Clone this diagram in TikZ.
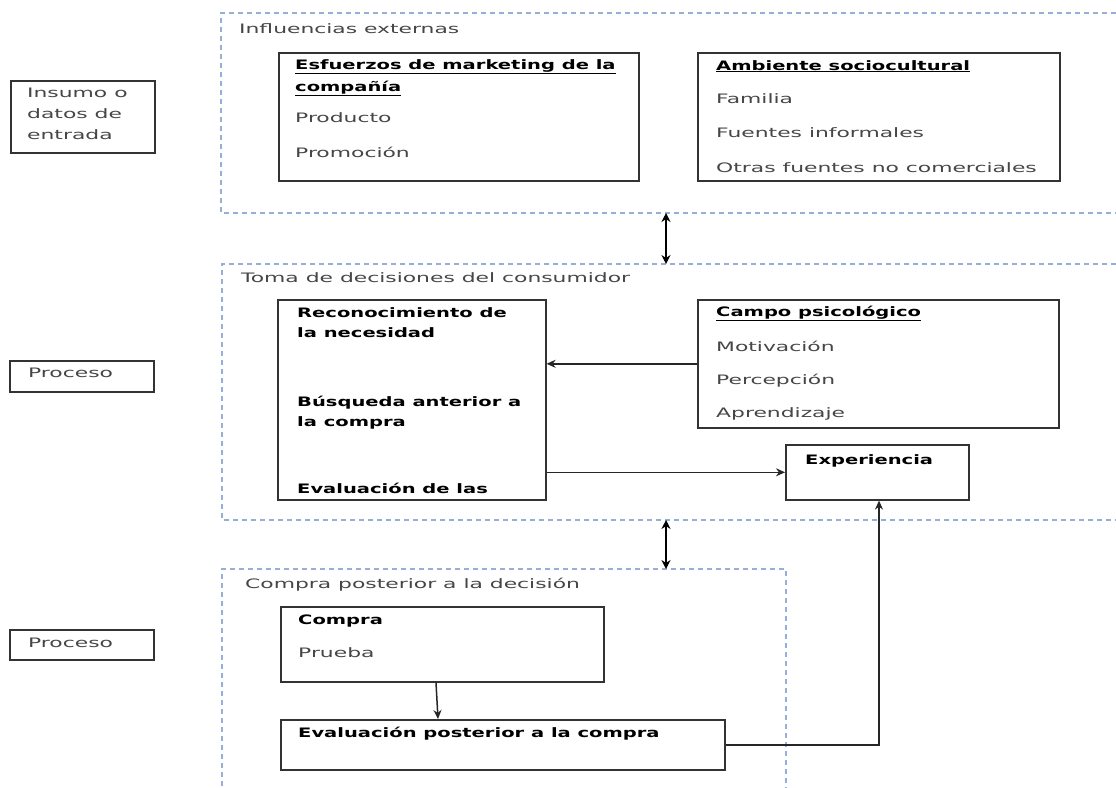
\documentclass[tikz,border=0pt]{standalone}
\usepackage{fontspec}
\setmainfont{DejaVu Sans}[FakeStretch=1.68]
\newfontfamily\bfam{DejaVu Sans}[FakeStretch=1.5]
\usetikzlibrary{arrows.meta}
\definecolor{dashc}{RGB}{150,175,215}
\definecolor{txtc}{RGB}{70,70,70}
\begin{document}
\begin{tikzpicture}[x=1pt,y=-1pt,
  box/.style={draw=black!80, line width=1.6pt, inner sep=0pt, anchor=north west},
  cont/.style={draw=dashc, line width=1.5pt, dash pattern=on 5pt off 4pt},
  txt/.style={anchor=base west, inner sep=0pt, font=\fontsize{13}{15}\selectfont, text=txtc},
  btxt/.style={anchor=base west, inner sep=0pt, font=\fontsize{13}{15}\selectfont\bfam\bfseries, text=black},
  arr/.style={draw=black!85, line width=1.5pt, -{Stealth[length=9pt,width=8pt]}},
  dbl/.style={draw=black, line width=1.5pt, {Stealth[length=9pt,width=9pt]}-{Stealth[length=9pt,width=9pt]}}]
\useasboundingbox (0,0) rectangle (1116,787);
\fill[white] (0,0) rectangle (1116,787);

% containers
\draw[cont] (1125,13) -- (221,13) -- (221,213) -- (1125,213);
\draw[cont] (1125,264) -- (222,264) -- (222,520) -- (1125,520);
\draw[cont] (222,795) -- (222,569) -- (786,569) -- (786,795);
\coordinate (c1b) at (666,213);
\coordinate (c2t) at (666,264);
\coordinate (c2b) at (666,520);
\coordinate (c3t) at (666,569);

% left boxes
\node[box, minimum width=144pt, minimum height=72pt] (insumo) at (10,80) {};
\node[box, minimum width=144pt, minimum height=31pt] (proc1) at (9,360) {};
\node[box, minimum width=144pt, minimum height=30pt] (proc2) at (9,629) {};
\node[txt] (t-ins1) at (27,97) {Insumo o};
\node[txt] (t-ins2) at (27,118) {datos de};
\node[txt] (t-ins3) at (27,139) {entrada};
\node[txt] (t-pr1) at (28,377) {Proceso};
\node[txt] (t-pr2) at (28,647) {Proceso};

% top container
\node[txt] (t-inf) at (239,33) {Influencias externas};
\node[box, minimum width=360pt, minimum height=128pt] (esf) at (278,52) {};
\node[btxt] (t-esf1) at (295,69) {\underline{Esfuerzos de marketing de la}};
\node[btxt] (t-esf2) at (295,91) {\underline{compañía}};
\node[txt] (t-esf3) at (295,122) {Producto};
\node[txt] (t-esf4) at (295,157) {Promoción};
\node[box, minimum width=362pt, minimum height=128pt] (amb) at (697,52) {};
\node[btxt] (t-amb1) at (716,70) {\underline{Ambiente sociocultural}};
\node[txt] (t-amb2) at (716,103) {Familia};
\node[txt] (t-amb3) at (716,137) {Fuentes informales};
\node[txt] (t-amb4) at (716,172) {Otras fuentes no comerciales};

% middle container
\node[txt] (t-toma) at (241,282) {Toma de decisiones del consumidor};
\node[box, minimum width=268pt, minimum height=200pt] (rec) at (277,299) {};
\node[btxt] (t-rec1) at (297,317) {Reconocimiento de};
\node[btxt] (t-rec2) at (297,337) {la necesidad};
\node[btxt] (t-rec3) at (297,406) {Búsqueda anterior a};
\node[btxt] (t-rec4) at (297,426) {la compra};
\node[btxt] (t-rec5) at (297,493) {Evaluación de las};
\node[box, minimum width=361pt, minimum height=128pt] (campo) at (697,299) {};
\node[btxt] (t-cam1) at (716,316) {\underline{Campo psicológico}};
\node[txt] (t-cam2) at (716,351) {Motivación};
\node[txt] (t-cam3) at (716,384) {Percepción};
\node[txt] (t-cam4) at (716,417) {Aprendizaje};
\node[box, minimum width=183pt, minimum height=55pt] (exp) at (785,444) {};
\node[btxt] (t-exp) at (805,464) {Experiencia};

% bottom container
\node[txt] (t-cpd) at (245,588) {Compra posterior a la decisión};
\node[box, minimum width=323pt, minimum height=75pt] (compra) at (280,606) {};
\node[btxt] (t-com1) at (298,624) {Compra};
\node[txt] (t-com2) at (298,657) {Prueba};
\node[box, minimum width=444pt, minimum height=50pt] (evalp) at (280,719) {};
\node[btxt] (t-eval) at (298,737) {Evaluación posterior a la compra};

% connectors
\draw[dbl] (c1b) -- (c2t);
\draw[dbl] (c2b) -- (c3t);
\draw[arr] (campo.west) -- (campo.west -| rec.east);
\draw[arr] (rec.east |- exp.west) -- (exp.west);
\draw[arr] ([xshift=156pt]compra.south west) -- ([xshift=158pt]evalp.north west);
\draw[arr] (evalp.east) -| ([xshift=94pt]exp.south west);
\end{tikzpicture}
\end{document}
